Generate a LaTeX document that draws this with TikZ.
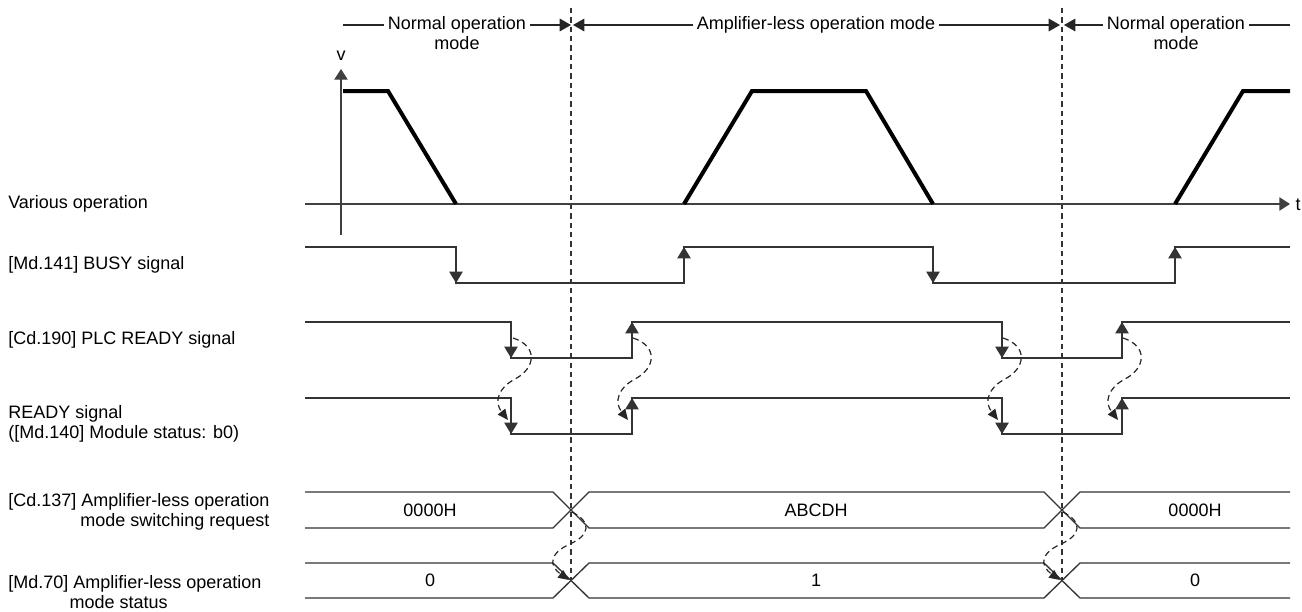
\documentclass[tikz,border=0pt]{standalone}
\usepackage{fontspec}
\setmainfont{Liberation Sans}
\usetikzlibrary{positioning, arrows.meta}
\tikzset{
  % Timing rows
  sigline/.style  = { line width=1pt, black!80 },
  sigedge/.style  = { sigline, -{Triangle[length=8.5pt, width=10pt]} },
  velline/.style  = { line width=3pt, black },
  axisline/.style = { line width=1pt, black!75, -{Triangle[length=8pt, width=10pt]} },
  guideline/.style= { line width=0.9pt, black!80, dash pattern=on 4pt off 3pt },
  causal/.style   = { line width=0.9pt, black!85, dash pattern=on 4.5pt off 3pt,
                       -{Triangle[length=8pt, width=7pt]} },
  % Texts
  siglabel/.style = { font=\fontsize{13.5}{15}\selectfont, anchor=west, align=left, inner sep=0pt },
  modetext/.style = { font=\fontsize{13.5}{15}\selectfont, inner xsep=3pt, inner ysep=1pt },
  modeline/.style = { line width=0.9pt, black!85 },
  modetip/.style  = { modeline, -{Triangle[length=8.5pt, width=9.5pt]} },
  valtext/.style  = { font=\fontsize{13.5}{15}\selectfont, inner sep=1pt }
}

\begin{document}
\begin{tikzpicture}[x=0.75pt, y=-0.75pt]
  \useasboundingbox (0,0) rectangle (1302,611);

  % row labels
  \node[siglabel] (lblvel)  at (8,204) {Various operation};
  \node[siglabel] (lblbusy) at (8,265) {[Md.141] BUSY signal};
  \node[siglabel] (lblplc)  at (8,340) {[Cd.190] PLC READY signal};
  \node[siglabel] (lblrdy)  at (8,424) {READY signal\\([Md.140] Module status: b0)};
  \node[siglabel, align=right] (lblreq) at (8,512) {[Cd.137] Amplifier-less operation\\mode switching request};
  \node[siglabel] (lblstat) at (8,592) {[Md.70] Amplifier-less operation\\\hspace*{46pt}mode status};

  % mode boundaries
  \coordinate (swA) at (571,8);
  \coordinate (swB) at (1062,8);
  \draw[guideline] (swA) -- (571,580);
  \draw[guideline] (swB) -- (1062,580);

  % mode header
  \node[modetext] (modeA) at (457,25) {Normal operation};
  \node[modetext, below=0pt of modeA] (modeAb) {mode};
  \node[modetext] (modeB) at (816,25) {Amplifier-less operation mode};
  \node[modetext] (modeC) at (1176,25) {Normal operation};
  \node[modetext, below=0pt of modeC] (modeCb) {mode};
  \draw[modeline] (343,25) -- (modeA.west);
  \draw[modetip] (modeA.east) -- (571,25);
  \draw[modetip] (modeB.west) -- (573,25);
  \draw[modetip] (modeB.east) -- (1060,25);
  \draw[modetip] (modeC.west) -- (1064,25);
  \draw[modeline] (modeC.east) -- (1290,25);

  % velocity axes
  \draw[axisline] (305,204) -- (1290,204);
  \node[valtext, anchor=west] (tlbl) at (1294,205) {t};
  \draw[axisline] (341,235) -- (341,69);
  \node[valtext] (vlbl) at (341,56) {v};

  % velocity
  \draw[velline] (343,91) -- (388,91) -- (456,204);
  \draw[velline] (684,204) -- (752,91) -- (866,91) -- (933,204);
  \draw[velline] (1175,204) -- (1243,91) -- (1290,91);

  % BUSY
  \draw[sigline] (305,247) -- (456,247) -- (456,283) -- (684,283) -- (684,247)
                 -- (933,247) -- (933,283) -- (1175,283) -- (1175,247) -- (1290,247);
  \draw[sigedge] (456,265) -- (456,283);
  \draw[sigedge] (684,265) -- (684,247);
  \draw[sigedge] (933,265) -- (933,283);
  \draw[sigedge] (1175,265) -- (1175,247);

  % PLC READY
  \draw[sigline] (305,322) -- (511,322) -- (511,358) -- (632,358) -- (632,322)
                 -- (1002,322) -- (1002,358) -- (1122,358) -- (1122,322) -- (1290,322);
  \draw[sigedge] (511,340) -- (511,358);
  \draw[sigedge] (632,340) -- (632,322);
  \draw[sigedge] (1002,340) -- (1002,358);
  \draw[sigedge] (1122,340) -- (1122,322);

  % READY
  \draw[sigline] (305,398) -- (511,398) -- (511,434) -- (632,434) -- (632,398)
                 -- (1002,398) -- (1002,434) -- (1122,434) -- (1122,398) -- (1290,398);
  \draw[sigedge] (511,416) -- (511,434);
  \draw[sigedge] (632,416) -- (632,398);
  \draw[sigedge] (1002,416) -- (1002,434);
  \draw[sigedge] (1122,416) -- (1122,398);

  % PLC READY -> READY
  \draw[causal] (513,338) .. controls (538,346) and (536,368) .. (515,379)
                .. controls (498,388) and (494,402) .. (508,420);
  \draw[causal] (633,338) .. controls (658,346) and (656,368) .. (635,379)
                .. controls (618,388) and (614,402) .. (628,420);
  \draw[causal] (1003,338) .. controls (1028,346) and (1026,368) .. (1005,379)
                .. controls (988,388) and (984,402) .. (998,420);
  \draw[causal] (1123,338) .. controls (1148,346) and (1146,368) .. (1125,379)
                .. controls (1108,388) and (1104,402) .. (1118,420);

  % switching request
  \draw[sigline] (305,492) -- (553,492) -- (589,528) -- (1044,528) -- (1080,492) -- (1290,492);
  \draw[sigline] (305,528) -- (553,528) -- (589,492) -- (1044,492) -- (1080,528) -- (1290,528);
  \node[valtext] (reqA) at (430,510) {0000H};
  \node[valtext] (reqB) at (816,510) {ABCDH};
  \node[valtext] (reqC) at (1195,510) {0000H};

  % mode status
  \draw[sigline] (305,563) -- (553,563) -- (589,598) -- (1044,598) -- (1080,563) -- (1290,563);
  \draw[sigline] (305,598) -- (553,598) -- (589,563) -- (1044,563) -- (1080,598) -- (1290,598);
  \node[valtext] (statA) at (430,580) {0};
  \node[valtext] (statB) at (816,580) {1};
  \node[valtext] (statC) at (1195,580) {0};

  % request -> status
  \draw[causal] (572,512) .. controls (592,522) and (590,535) .. (570,544)
                .. controls (550,553) and (548,565) .. (569,580);
  \draw[causal] (1063,512) .. controls (1083,522) and (1081,535) .. (1061,544)
                .. controls (1041,553) and (1039,565) .. (1060,580);
\end{tikzpicture}
\end{document}
